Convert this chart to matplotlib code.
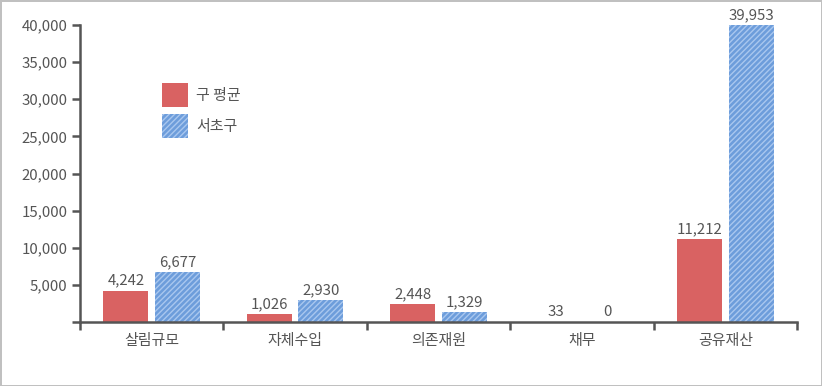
import numpy as np
import matplotlib.pyplot as plt

plt.rcParams['font.family'] = ['Noto Sans CJK KR', 'DejaVu Sans']
plt.rcParams['hatch.linewidth'] = 1.0

categories = ["살림규모", "자체수입", "의존재원", "채무", "공유재산"]
gu_avg = [4242, 1026, 2448, 33, 11212]
seocho = [6677, 2930, 1329, 0, 39953]
series_names = ["구 평균", "서초구"]

txt = '#555555'
red = '#d96262'
blue = '#6d9ddb'
fs = 10.8

fig = plt.figure(figsize=(8.22, 3.86), dpi=100, edgecolor='#c0c0c0', linewidth=2)
ax = fig.add_axes([80/822, 1-322/386, 717/822, 297/386])

x = np.arange(len(categories))
w = 0.315
off = 0.18
b1 = ax.bar(x - off, gu_avg, w, color=red, linewidth=0, label=series_names[0])
b2 = ax.bar(x + off, seocho, w, color=blue, edgecolor='#a9c7ef', hatch='//////',
            linewidth=0, label=series_names[1])

for bars, vals in ((b1, gu_avg), (b2, seocho)):
    for r, v in zip(bars, vals):
        ax.annotate(f"{v:,}", (r.get_x() + r.get_width()/2, r.get_height()),
                    xytext=(0, 2), textcoords='offset points', ha='center', va='bottom',
                    fontsize=fs, color=txt)

ax.set_xlim(-0.5, len(categories) - 0.5)
ax.set_ylim(0, 40000)
yt = np.arange(0, 40001, 5000)
ax.set_yticks(yt)
ax.set_yticklabels([''] + [f"{v:,}" for v in yt[1:]])
ax.set_xticks(np.arange(-0.5, len(categories), 1.0))
ax.set_xticklabels([])
ax.set_xticks(x, minor=True)
ax.set_xticklabels(categories, minor=True)

for s in ['top', 'right']:
    ax.spines[s].set_visible(False)
for s in ['left', 'bottom']:
    ax.spines[s].set_color(txt)
    ax.spines[s].set_linewidth(1.8)
ax.tick_params(axis='y', which='major', length=6, width=1.8, color=txt,
               labelcolor=txt, labelsize=fs, pad=3)
ax.tick_params(axis='x', which='major', length=6, width=1.8, color=txt)
ax.tick_params(axis='x', which='minor', length=0, labelcolor=txt, labelsize=fs, pad=9)

leg = ax.legend(loc='upper left', bbox_to_anchor=(0.095, 0.85), frameon=False,
                fontsize=fs, handlelength=1.75, handleheight=2.1, labelspacing=0.45,
                handletextpad=0.55)
for t in leg.get_texts():
    t.set_color(txt)

fig.savefig('out.png', dpi=100)
